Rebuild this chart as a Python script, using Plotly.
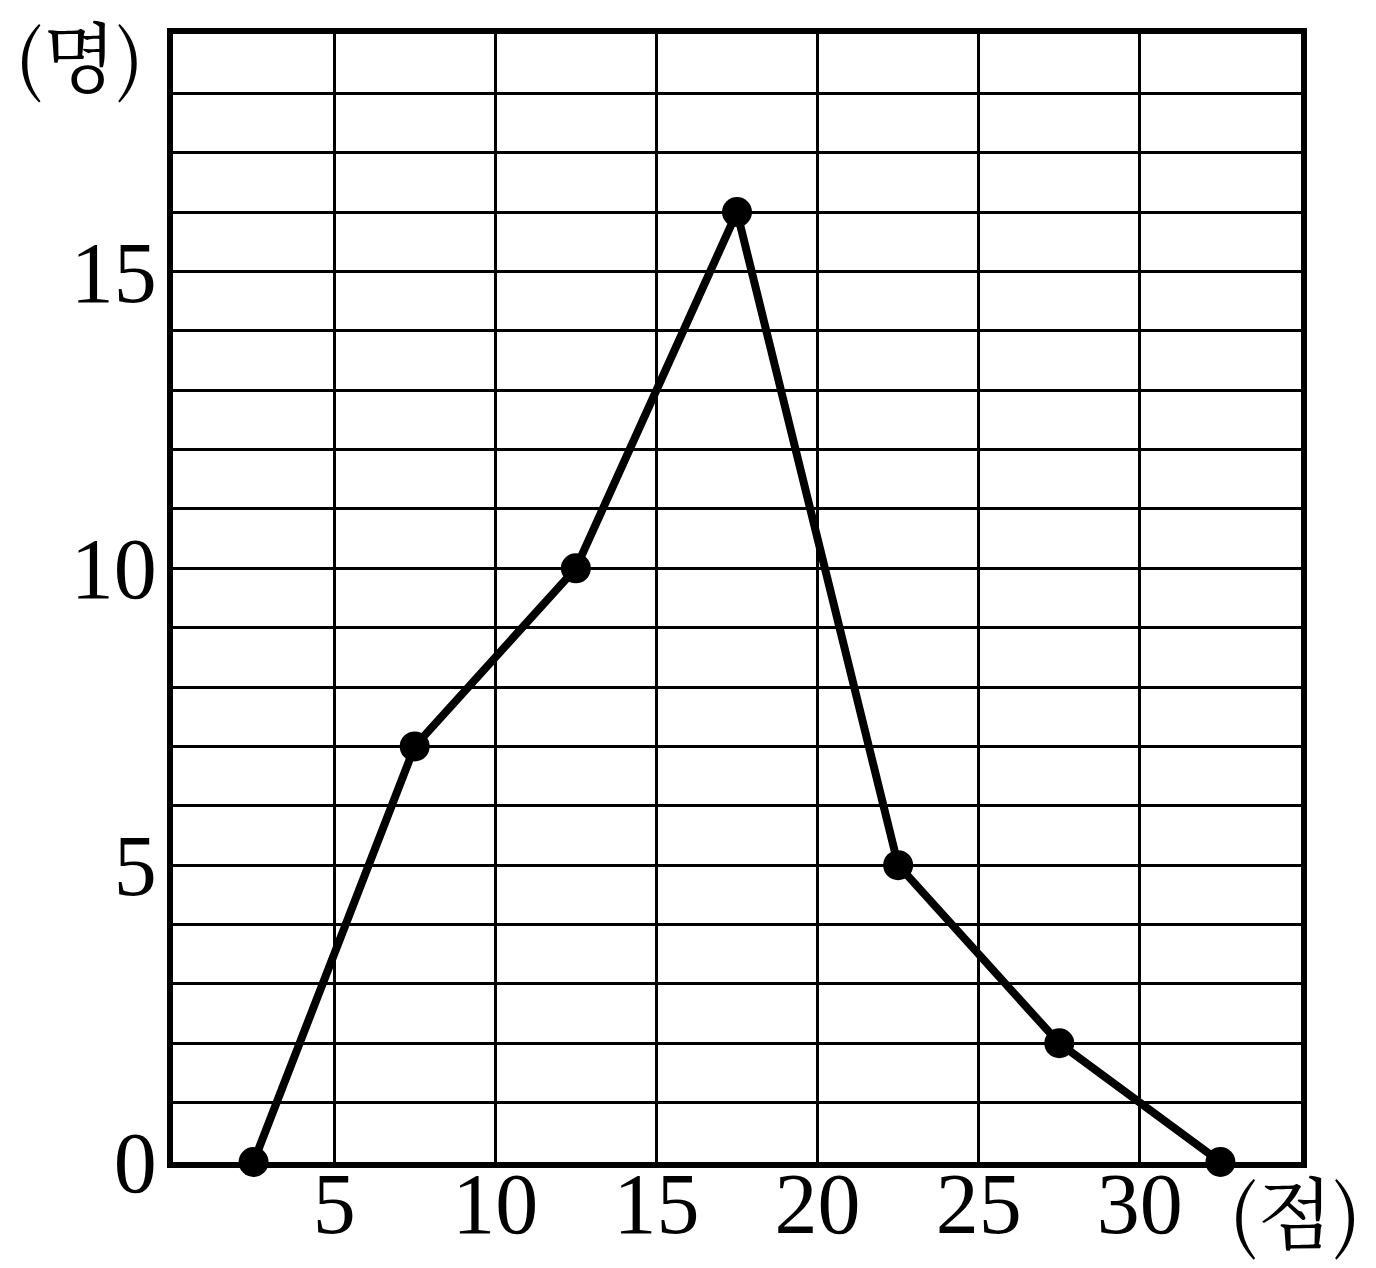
import plotly.graph_objects as go

scores = [2.5, 7.5, 12.5, 17.5, 22.5, 27.5, 32.5]
counts = [0, 7, 10, 16, 5, 2, 0]
x_ticks = [5, 10, 15, 20, 25, 30]
y_ticks = [0, 5, 10, 15]
y_unit = "(명)"
x_unit = "(점)"

FONT = "Liberation Serif, DejaVu Serif, serif"
KFONT = "Noto Serif CJK KR, Noto Sans CJK KR, sans-serif"

fig = go.Figure()
fig.add_trace(go.Scatter(
    x=scores, y=counts, mode="lines+markers",
    line=dict(color="black", width=8),
    marker=dict(color="black", size=30),
    cliponaxis=False, showlegend=False,
))

fig.update_layout(
    width=1376, height=1268,
    margin=dict(l=165, r=83, t=26, b=114),
    plot_bgcolor="white", paper_bgcolor="white",
    font=dict(family=FONT, size=86, color="black"),
    xaxis=dict(
        range=[0, 35], tickvals=x_ticks, ticktext=[str(v) for v in x_ticks],
        showgrid=True, gridcolor="black", gridwidth=3,
        showline=True, linecolor="black", linewidth=6, mirror=True,
        ticks="", zeroline=False, ticklabelstandoff=-38, automargin=False,
    ),
    yaxis=dict(
        range=[0, 19], tickvals=y_ticks, ticktext=[str(v) for v in y_ticks],
        showgrid=False,
        minor=dict(dtick=1, tick0=0, showgrid=True, gridcolor="black", gridwidth=3),
        showline=True, linecolor="black", linewidth=6, mirror=True,
        ticks="", zeroline=False, ticklabelstandoff=-7, automargin=False,
    ),
    annotations=[
        dict(text=y_unit, xref="paper", yref="paper", x=-0.083, y=0.983,
             xanchor="center", yanchor="middle", showarrow=False,
             font=dict(family=KFONT, size=76)),
        dict(text=x_unit, xref="paper", yref="paper", x=0.9947, y=-0.042,
             xanchor="center", yanchor="middle", showarrow=False,
             font=dict(family=KFONT, size=78)),
    ],
)

fig.write_html("out.html")
